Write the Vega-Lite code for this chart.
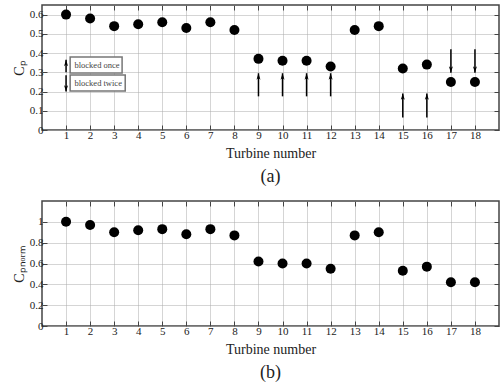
{
  "$schema": "https://vega.github.io/schema/vega-lite/v6.json",
  "background": "white",
  "padding": {"left": 11, "right": 2, "top": 3, "bottom": 1},
  "config": {
    "font": "Liberation Serif",
    "view": {"stroke": "#444", "strokeWidth": 1.5},
    "axis": {"labelFont": "Liberation Serif", "labelFontSize": 11, "labelColor": "#222", "titleFont": "Liberation Serif", "titleFontWeight": "normal", "titleFontSize": 14, "titleColor": "#222", "gridColor": "#aaa", "gridDash": [1, 1], "gridWidth": 1, "tickSize": -5, "tickColor": "#444", "domain": false, "labelPadding": 4, "titlePadding": 6},
    "axisY": {"titlePadding": 3},
    "title": {"font": "Liberation Serif", "fontSize": 18, "fontWeight": "normal", "orient": "bottom", "color": "#222", "offset": 8}
  },
  "datasets": {
    "cp": [
      {"t": 1, "cp": 0.60, "cn": 1.00}, {"t": 2, "cp": 0.58, "cn": 0.97}, {"t": 3, "cp": 0.54, "cn": 0.90},
      {"t": 4, "cp": 0.55, "cn": 0.92}, {"t": 5, "cp": 0.56, "cn": 0.93}, {"t": 6, "cp": 0.53, "cn": 0.88},
      {"t": 7, "cp": 0.56, "cn": 0.93}, {"t": 8, "cp": 0.52, "cn": 0.87}, {"t": 9, "cp": 0.37, "cn": 0.62},
      {"t": 10, "cp": 0.36, "cn": 0.60}, {"t": 11, "cp": 0.36, "cn": 0.60}, {"t": 12, "cp": 0.33, "cn": 0.55},
      {"t": 13, "cp": 0.52, "cn": 0.87}, {"t": 14, "cp": 0.54, "cn": 0.90}, {"t": 15, "cp": 0.32, "cn": 0.53},
      {"t": 16, "cp": 0.34, "cn": 0.57}, {"t": 17, "cp": 0.25, "cn": 0.42}, {"t": 18, "cp": 0.25, "cn": 0.42}
    ],
    "arrows": [
      {"t": 9, "y1": 0.175, "y2": 0.295, "dir": "up"},
      {"t": 10, "y1": 0.175, "y2": 0.295, "dir": "up"},
      {"t": 11, "y1": 0.175, "y2": 0.295, "dir": "up"},
      {"t": 12, "y1": 0.175, "y2": 0.295, "dir": "up"},
      {"t": 15, "y1": 0.065, "y2": 0.19, "dir": "up"},
      {"t": 16, "y1": 0.065, "y2": 0.19, "dir": "up"},
      {"t": 17, "y1": 0.42, "y2": 0.298, "dir": "down"},
      {"t": 18, "y1": 0.42, "y2": 0.298, "dir": "down"},
      {"t": 1, "y1": 0.30, "y2": 0.365, "dir": "up"},
      {"t": 1, "y1": 0.285, "y2": 0.20, "dir": "down"}
    ],
    "boxes": [
      {"x1": 1.17, "x2": 3.33, "y1": 0.297, "y2": 0.38, "xt": 1.35, "yt": 0.338, "label": "blocked once"},
      {"x1": 1.17, "x2": 3.46, "y1": 0.203, "y2": 0.286, "xt": 1.35, "yt": 0.244, "label": "blocked twice"}
    ]
  },
  "spacing": 12,
  "vconcat": [
    {
      "width": 457,
      "height": 125,
      "title": {"text": "(a)"},
      "resolve": {"axis": {"x": "independent", "y": "independent"}},
      "layer": [
        {
          "data": {"name": "cp"},
          "mark": {"type": "point", "filled": true, "color": "black", "size": 100, "opacity": 1},
          "encoding": {
            "x": {"field": "t", "type": "quantitative", "scale": {"domain": [0, 19], "nice": false}, "axis": {"values": [1,2,3,4,5,6,7,8,9,10,11,12,13,14,15,16,17,18], "title": "Turbine number", "grid": true}},
            "y": {"field": "cp", "type": "quantitative", "scale": {"domain": [0, 0.65], "nice": false}, "axis": {"values": [0, 0.1, 0.2, 0.3, 0.4, 0.5, 0.6], "format": "~g", "title": "Cₚ", "grid": true, "minExtent": 0}}
          }
        },
        {
          "data": {"name": "boxes"},
          "mark": {"type": "rect", "fill": "white", "stroke": "#777", "strokeWidth": 1.5},
          "encoding": {
            "x": {"field": "x1", "type": "quantitative", "axis": null},
            "x2": {"field": "x2"},
            "y": {"field": "y1", "type": "quantitative", "axis": null},
            "y2": {"field": "y2"}
          }
        },
        {
          "data": {"name": "boxes"},
          "mark": {"type": "text", "align": "left", "baseline": "middle", "fontSize": 8.5, "color": "#444", "font": "Liberation Serif"},
          "encoding": {
            "x": {"field": "xt", "type": "quantitative", "axis": null},
            "y": {"field": "yt", "type": "quantitative", "axis": null},
            "text": {"field": "label"}
          }
        },
        {
          "data": {"name": "arrows"},
          "mark": {"type": "rule", "color": "black", "strokeWidth": 1.5},
          "encoding": {
            "x": {"field": "t", "type": "quantitative", "axis": null},
            "y": {"field": "y1", "type": "quantitative", "axis": null},
            "y2": {"field": "y2"}
          }
        },
        {
          "data": {"name": "arrows"},
          "mark": {"type": "point", "filled": true, "color": "black", "size": 64, "opacity": 1},
          "encoding": {
            "x": {"field": "t", "type": "quantitative", "axis": null},
            "y": {"field": "y2", "type": "quantitative", "axis": null},
            "shape": {"field": "dir", "type": "nominal", "legend": null, "scale": {"domain": ["up", "down"], "range": ["M0,0L-0.5,1.6L0,1.2L0.5,1.6Z", "M0,0L-0.5,-1.6L0,-1.2L0.5,-1.6Z"]}}
          }
        },
        {
          "data": {"name": "cp"},
          "mark": {"type": "point", "opacity": 0},
          "encoding": {
            "x": {"field": "t", "type": "quantitative", "axis": {"orient": "top", "values": [1,2,3,4,5,6,7,8,9,10,11,12,13,14,15,16,17,18], "labels": false, "title": null, "grid": false, "minExtent": 0, "maxExtent": 0, "labelPadding": 0}},
            "y": {"field": "cp", "type": "quantitative", "axis": {"orient": "right", "values": [0, 0.1, 0.2, 0.3, 0.4, 0.5, 0.6], "labels": false, "title": null, "grid": false, "minExtent": 0, "maxExtent": 0, "labelPadding": 0}}
          }
        }
      ]
    },
    {
      "width": 457,
      "height": 125,
      "title": {"text": "(b)"},
      "resolve": {"axis": {"x": "independent", "y": "independent"}},
      "layer": [
        {
          "data": {"name": "cp"},
          "mark": {"type": "point", "filled": true, "color": "black", "size": 100, "opacity": 1},
          "encoding": {
            "x": {"field": "t", "type": "quantitative", "scale": {"domain": [0, 19], "nice": false}, "axis": {"values": [1,2,3,4,5,6,7,8,9,10,11,12,13,14,15,16,17,18], "title": "Turbine number", "grid": true}},
            "y": {"field": "cn", "type": "quantitative", "scale": {"domain": [0, 1.2], "nice": false}, "axis": {"values": [0, 0.2, 0.4, 0.6, 0.8, 1], "format": "~g", "title": "Cₚₙₒᵣₘ", "grid": true, "minExtent": 0}}
          }
        },
        {
          "data": {"name": "cp"},
          "mark": {"type": "point", "opacity": 0},
          "encoding": {
            "x": {"field": "t", "type": "quantitative", "axis": {"orient": "top", "values": [1,2,3,4,5,6,7,8,9,10,11,12,13,14,15,16,17,18], "labels": false, "title": null, "grid": false, "minExtent": 0, "maxExtent": 0, "labelPadding": 0}},
            "y": {"field": "cn", "type": "quantitative", "axis": {"orient": "right", "values": [0, 0.2, 0.4, 0.6, 0.8, 1], "labels": false, "title": null, "grid": false, "minExtent": 0, "maxExtent": 0, "labelPadding": 0}}
          }
        }
      ]
    }
  ]
}
